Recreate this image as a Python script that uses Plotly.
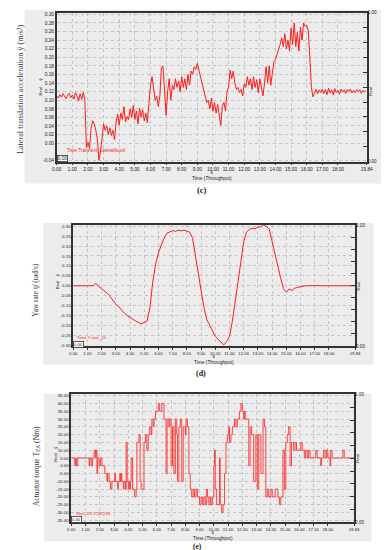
import plotly.graph_objects as go

W, H = 389, 550

# ---------------- data ----------------
# (c) lateral translation acceleration, sampled every 0.1 s
accel = [0.110, 0.105, 0.113, 0.107, 0.115, 0.108, 0.104, 0.112, 0.116, 0.106,
         0.112, 0.103, 0.118, 0.110, 0.098, 0.115, 0.102, 0.118, 0.100, -0.010,
         0.002, -0.012, 0.035, 0.052, 0.045, 0.030, 0.010, -0.040, -0.020, 0.010,
         0.045, 0.030, 0.040, 0.020, 0.036, 0.018, 0.030, 0.008, 0.050, 0.068,
         0.042, 0.070, 0.055, 0.085, 0.050, 0.062, 0.055, 0.080, 0.060, 0.088,
         0.055, 0.075, 0.045, 0.082, 0.060, 0.078, 0.052, 0.070, 0.048, 0.092,
         0.135, 0.155, 0.120, 0.100, 0.110, 0.085, 0.110, 0.175, 0.180, 0.130,
         0.065, 0.120, 0.150, 0.100, 0.135, 0.125, 0.150, 0.130, 0.145, 0.120,
         0.155, 0.130, 0.150, 0.125, 0.160, 0.135, 0.168, 0.160, 0.178, 0.172,
         0.186, 0.170, 0.155, 0.140, 0.125, 0.110, 0.095, 0.100, 0.080, 0.105,
         0.075, 0.095, 0.070, 0.090, 0.060, 0.042, 0.085, 0.095, 0.075, 0.120,
         0.130, 0.170, 0.150, 0.168, 0.140, 0.125, 0.130, 0.118, 0.125, 0.110,
         0.138, 0.130, 0.155, 0.135, 0.150, 0.125, 0.155, 0.130, 0.148, 0.118,
         0.150, 0.125, 0.110, 0.140, 0.178, 0.140, 0.180, 0.135, 0.160, 0.190,
         0.195, 0.205, 0.215, 0.230, 0.245, 0.225, 0.255, 0.220, 0.240, 0.215,
         0.268, 0.230, 0.280, 0.225, 0.258, 0.215, 0.270, 0.240, 0.280, 0.272,
         0.275, 0.262, 0.200, 0.130, 0.108, 0.118, 0.125, 0.115, 0.124, 0.118,
         0.126, 0.116, 0.125, 0.113, 0.128, 0.117, 0.124, 0.112, 0.127, 0.118,
         0.123, 0.114, 0.126, 0.119, 0.124, 0.116, 0.125, 0.120, 0.126, 0.117,
         0.123, 0.118, 0.125, 0.120, 0.124, 0.116, 0.123, 0.119, 0.122]
accel_t = [round(i * 0.1, 1) for i in range(len(accel))]

# (d) yaw rate, sampled every 0.2 s
yaw = [0.000, 0.000, 0.000, 0.001, 0.000, 0.000, 0.001, 0.000, 0.012, -0.005,
       -0.015, -0.025, -0.038, -0.055, -0.075, -0.092, -0.105, -0.122, -0.138, -0.150,
       -0.160, -0.170, -0.178, -0.185, -0.192, -0.185, -0.178, -0.110, 0.020, 0.110,
       0.165, 0.205, 0.240, 0.265, 0.272, 0.278, 0.274, 0.280, 0.276, 0.281,
       0.275, 0.270, 0.240, 0.150, 0.050, -0.030, -0.110, -0.170, -0.200, -0.230,
       -0.255, -0.270, -0.285, -0.298, -0.280, -0.255, -0.180, -0.080, 0.030, 0.130,
       0.220, 0.270, 0.283, 0.290, 0.287, 0.295, 0.297, 0.306, 0.298, 0.285,
       0.220, 0.150, 0.100, 0.040, -0.015, -0.032, -0.016, -0.024, -0.012, -0.008,
       -0.004, -0.002, 0.000, 0.001, 0.000, 0.000, 0.001, 0.000, 0.000, 0.001,
       0.000, 0.000, 0.000, 0.001, 0.000, 0.000, 0.000, 0.001, 0.000, 0.000]
yaw_t = [round(i * 0.2, 1) for i in range(len(yaw))]

# (e) actuator torque, step changes (time of change, new value)
torque_t = [0.0, 0.25, 0.3, 0.35, 0.45, 1.25, 1.3, 1.4, 1.5, 1.6, 1.7, 1.75, 1.8, 1.85,
            1.95, 2.05, 2.15, 2.35, 2.5, 2.55, 2.65, 2.75, 2.85, 3.05, 3.1, 3.25, 3.3,
            3.4, 3.45, 3.5, 3.55, 3.65, 3.7, 3.8, 3.85, 3.92, 4.0, 4.05, 4.1, 4.15, 4.2,
            4.3, 4.45, 4.55, 4.6, 4.75, 4.83, 4.9, 5.1, 5.2, 5.3, 5.4, 5.5, 5.6, 5.65,
            5.75, 5.8, 5.9, 6.1, 6.2, 6.35, 6.5, 6.65, 6.72, 6.85, 6.9, 7.0, 7.1, 7.2,
            7.3, 7.4, 7.45, 7.55, 7.65, 7.75, 7.85, 8.0, 8.05, 8.15, 8.25, 8.35, 8.45,
            8.55, 8.65, 8.75, 8.85, 9.0, 9.1, 9.2, 9.3, 9.4, 9.5, 9.55, 9.65, 9.75, 9.8,
            9.9, 10.0, 10.05, 10.1, 10.2, 10.4, 10.45, 10.55, 10.65, 10.75, 10.85,
            10.95, 11.05, 11.1, 11.2, 11.3, 11.45, 11.55, 11.65, 11.8, 11.9, 12.0,
            12.1, 12.15, 12.2, 12.45, 12.55, 12.65, 12.8, 12.95, 13.05, 13.15, 13.3,
            13.45, 13.55, 13.65, 13.75, 13.85, 14.0, 14.1, 14.3, 14.5, 14.6, 14.7,
            14.85, 14.95, 15.05, 15.15, 15.25, 15.35, 15.45, 15.6, 15.7, 15.8, 16.1,
            16.2, 16.35, 16.45, 16.55, 16.65, 16.75, 17.15, 17.25, 17.5, 17.55, 17.7,
            17.8, 17.9, 18.0, 18.15, 18.2, 18.3, 19.05, 19.15, 19.84]
torque = [5, 0, 5, 0, 5, 0, 5, 0, 5, 10, 5, 10, -5, 5,
          0, 5, 0, -5, -10, -5, -10, -15, -10, -5, -10, -15, -10,
          -5, -10, -5, -10, -15, -10, -15, 15, -10, -15, -10, -15, -10, 5,
          -15, -20, -15, 15, 20, -10, -15, 15, 20, 10, 20, 25, 20, 30,
          25, 30, 35, 40, 35, 40, 30, -5, 30, 25, 30, 0, 25, -5,
          30, 20, -10, 25, 30, -10, 25, 20, 30, 25, -5, -15, -20,
          -15, -20, -15, -20, -25, -20, -25, -20, -25, -15, -20, -25, -20, -25,
          -20, 0, 10, -15, -25, 5, -25, -30, -25, -5, 15,
          20, 25, 15, 20, 25, 30, 25, 30, 35, 40, 35,
          30, 35, 30, 0, 25, 20, -10, 20, -15, 20, -5,
          30, 25, -20, -15, -20, -15, -20, -15, -20, -25, -20,
          10, -15, 15, 20, 25, 0, 15, 10, 15, 10, 15,
          10, 5, 10, 5, 10, 5, 10, 5, 0, 5, 10,
          5, 10, 5, 0, 10, 5, 10, 5, 5]

x_tickvals = [0, 1, 2, 3, 4, 5, 6, 7, 8, 9, 10, 11, 12, 13, 14, 15, 16, 17, 18, 19.84]
yc_ticks = [-0.04, 0.00, 0.02, 0.04, 0.06, 0.08, 0.10, 0.12, 0.14, 0.16, 0.18,
            0.20, 0.22, 0.24, 0.26, 0.28, 0.30]
yd_ticks = [-0.30, -0.25, -0.20, -0.15, -0.10, -0.05, 0.00, 0.05, 0.10, 0.15,
            0.20, 0.25, 0.30]
ye_ticks = [-35, -30, -25, -20, -15, -10, -5, 0, 5, 10, 15, 20, 25, 30, 35, 40, 45]

# ---------------- layout helpers ----------------
def px(x):
    return x / W

def py(y):
    return 1 - y / H

RED = "#ff1a1a"
SANS = "Liberation Sans, Arial, sans-serif"
SERIF = "Liberation Serif, Times New Roman, serif"

# plot rectangles in pixels (left, top, right, bottom)
rects = {
    "c": (45, 2.7, 364, 153),
    "d": (62, 217, 352, 339),
    "e": (60, 388, 351, 517),
}
# gray panels
panels = [(12, 0, 385, 175), (31, 215, 371, 358), (32, 387, 369, 536)]

fig = go.Figure()
fig.add_trace(go.Scatter(x=accel_t, y=accel, mode="lines",
                         line=dict(color=RED, width=1), xaxis="x", yaxis="y",
                         showlegend=False, hoverinfo="skip"))
fig.add_trace(go.Scatter(x=yaw_t, y=yaw, mode="lines",
                         line=dict(color=RED, width=1), xaxis="x2", yaxis="y2",
                         showlegend=False, hoverinfo="skip"))
fig.add_trace(go.Scatter(x=torque_t, y=torque, mode="lines", line_shape="hv",
                         line=dict(color="#ff3030", width=0.9), xaxis="x3", yaxis="y3",
                         showlegend=False, hoverinfo="skip"))
for xa, ya in [("x", "y4"), ("x2", "y5"), ("x3", "y6")]:
    fig.add_trace(go.Scatter(x=[None], y=[None], xaxis=xa, yaxis=ya,
                             showlegend=False, hoverinfo="skip"))


def xaxis_cfg(r, fs):
    l, t, rr, b = r
    return dict(domain=[px(l), px(rr)], range=[0, 19.84], tickvals=x_tickvals,
                ticktext=["%.2f" % v for v in x_tickvals],
                tickfont=dict(family=SANS, size=fs, color="#222"), tickangle=0,
                ticks="outside", ticklen=2, tickcolor="#333",
                showline=True, linecolor="#333", linewidth=1.5, mirror=True,
                showgrid=True, gridcolor="#c4c4c4", griddash="dot", gridwidth=0.8,
                zeroline=False, fixedrange=True)


def yaxis_cfg(r, rng, ticks, fmt, anchor, fs):
    l, t, rr, b = r
    return dict(domain=[py(b), py(t)], range=rng, tickvals=ticks,
                ticktext=[fmt % v for v in ticks],
                tickfont=dict(family=SANS, size=fs, color="#222"),
                ticks="", showline=True, linecolor="#333", linewidth=1.5, mirror=True,
                showgrid=True, gridcolor="#c4c4c4", griddash="dot", gridwidth=0.8,
                zeroline=False, anchor=anchor, fixedrange=True)


def right_cfg(over, anchor):
    return dict(overlaying=over, anchor=anchor, side="right", range=[0, 1],
                tickvals=[0, 1], ticktext=["0.00", "1.00"],
                tickfont=dict(family=SANS, size=4.6, color="#222"),
                ticks="inside", ticklen=4, tickcolor="#333",
                minor=dict(tickvals=[0.1, 0.2, 0.3, 0.4, 0.5, 0.6, 0.7, 0.8, 0.9],
                           ticks="inside", ticklen=4, tickcolor="#333", showgrid=False),
                showgrid=False, zeroline=False, showline=False, fixedrange=True)


fig.update_layout(
    width=W, height=H, margin=dict(l=0, r=0, t=0, b=0),
    paper_bgcolor="white", plot_bgcolor="white", showlegend=False,
    xaxis=xaxis_cfg(rects["c"], 4.8) | dict(anchor="y"),
    yaxis=yaxis_cfg(rects["c"], [-0.043, 0.304], yc_ticks, "%.2f", "x", 4.8),
    xaxis2=xaxis_cfg(rects["d"], 4.3) | dict(anchor="y2"),
    yaxis2=yaxis_cfg(rects["d"], [-0.303, 0.306], yd_ticks, "%.2f", "x2", 4.4),
    xaxis3=xaxis_cfg(rects["e"], 4.3) | dict(anchor="y3"),
    yaxis3=yaxis_cfg(rects["e"], [-36.3, 45.8], ye_ticks, "%.2f", "x3", 4.4),
    yaxis4=right_cfg("y", "x"),
    yaxis5=right_cfg("y2", "x2"),
    yaxis6=right_cfg("y3", "x3"),
)

shapes = []
for (l, t, r, b) in panels:
    shapes.append(dict(type="rect", xref="paper", yref="paper", x0=px(l), x1=px(r),
                       y0=py(b), y1=py(t), fillcolor="#ececec", line=dict(width=0),
                       layer="below"))
fig.update_layout(shapes=shapes)

ann = []


def text(x, y, s, size=5, color="#222", family=SANS,
         angle=0, xanchor="center", yanchor="middle", border=None, pad=1):
    d = dict(x=px(x), y=py(y), xref="paper", yref="paper", text=s, showarrow=False,
             font=dict(size=size, color=color, family=family), textangle=angle,
             xanchor=xanchor, yanchor=yanchor, borderpad=pad)
    if border:
        d.update(bordercolor=border, borderwidth=0.8, borderpad=0, bgcolor="white")
    ann.append(d)


# y-axis titles
text(7, 80, "Lateral translation acceleration ÿ (m/s²)", size=8.2, family=SERIF,
     angle=-90, color="#333")
text(23, 282, "Yaw rate ψ̇ (rad/s)", size=7.3, family=SERIF, angle=-90, color="#333")
text(24, 460, "Actuator torque T<sub>EA</sub> (Nm)", size=7.6, family=SERIF,
     angle=-90, color="#333")

# captions
text(195, 182, "<b>(c)</b>", size=8.5, family=SERIF, color="#222")
text(193, 367, "<b>(d)</b>", size=8, family=SERIF, color="#222")
text(190, 541, "<b>(e)</b>", size=7.5, family=SERIF, color="#222")

# bottom axis labels (unit line + axis name)
for cx, yc in [(205, 167.5), (207, 352.5), (206, 530)]:
    text(cx, yc, "s<br>Time (Throughput)", size=4.8, pad=0)

# "Real" labels left and right
for lx, rx, cy, sy in [(28, 368, 82, 70), (46, 356, 278, 268), (44, 355, 452, 442)]:
    text(lx, cy, "Real", size=4, angle=-90)
    text(lx, sy, "ŷ", size=4, angle=-90)
    text(rx, cy, "Real", size=4.3, angle=-90)

# series names in red inside plots
text(53, 142, "Time Transient_LateralAccel", size=4.6, color=RED, xanchor="left")
text(64, 331, "Time Y-rate_15", size=4.3, color=RED, xanchor="left")
text(63, 508, "Sine JVLTORQ16", size=4.3, color=RED, xanchor="left")

# little "0.00" boxes at bottom-left corners
text(45.5, 150, "0.00", size=4.6, xanchor="left", border="#333")
text(61.5, 337.5, "0.00", size=4.3, xanchor="left", border="#333")
text(60, 514.5, "0.00", size=4.3, xanchor="left", border="#333")

fig.update_layout(annotations=ann)
fig.write_html("out.html")
